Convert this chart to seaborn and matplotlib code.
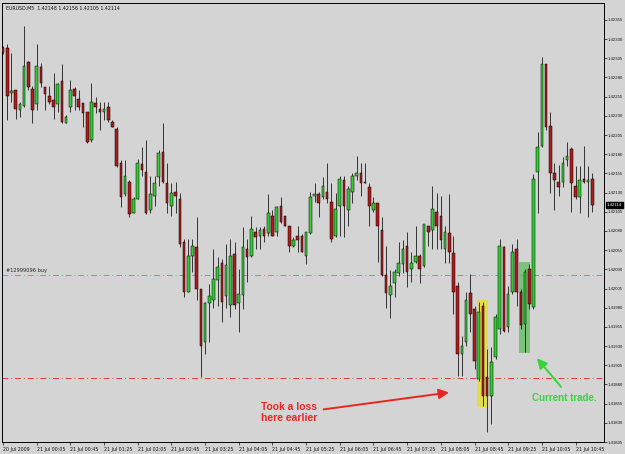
import numpy as np
import matplotlib
matplotlib.use("Agg")
import matplotlib.pyplot as plt
import matplotlib.patches as mpatches
import seaborn as sns

# EURUSD M5, 20 Jul 23:25 .. 21 Jul 11:05
opens = [1.42319, 1.42319, 1.42260, 1.42263, 1.42238, 1.42243, 1.42300, 1.42265, 1.42245, 1.42294,
         1.42268, 1.42256, 1.42250, 1.42245, 1.42276, 1.42221, 1.42241, 1.42265, 1.42252, 1.42247,
         1.42235, 1.42198, 1.42247, 1.42239, 1.42235, 1.42241, 1.42222, 1.42213, 1.42168, 1.42128,
         1.42144, 1.42104, 1.42122, 1.42167, 1.42157, 1.42107, 1.42126, 1.42150, 1.42183, 1.42142,
         1.42112, 1.42131, 1.42121, 1.42065, 1.42000, 1.42048, 1.42059, 1.42004, 1.41935, 1.41986,
         1.41990, 1.42016, 1.42038, 1.41995, 1.41983, 1.42050, 1.41986, 1.41996, 1.42057, 1.42047,
         1.42078, 1.42073, 1.42082, 1.42077, 1.42099, 1.42078, 1.42112, 1.42099, 1.42086, 1.42060,
         1.42073, 1.42073, 1.42048, 1.42077, 1.42125, 1.42128, 1.42124, 1.42131, 1.42118, 1.42073,
         1.42112, 1.42147, 1.42107, 1.42131, 1.42152, 1.42155, 1.42144, 1.42137, 1.42107, 1.42116,
         1.42081, 1.42022, 1.41996, 1.42012, 1.42025, 1.42037, 1.42061, 1.42030, 1.42039, 1.42048,
         1.42034, 1.42086, 1.42081, 1.42105, 1.42099, 1.42056, 1.42077, 1.42051, 1.42008, 1.41920,
         1.41935, 1.41999, 1.41978, 1.41887, 1.41982, 1.41890, 1.41865, 1.41916, 1.41952, 1.42059,
         1.41955, 1.42000, 1.42056, 1.42000, 1.41959, 1.42030, 1.41981, 1.42157, 1.42191, 1.42297,
         1.42217, 1.42156, 1.42144, 1.42144, 1.42173, 1.42187, 1.42138, 1.42124, 1.42148, 1.42144,
         1.42148]
highs = [1.42321, 1.42323, 1.42312, 1.42264, 1.42248, 1.42347, 1.42302, 1.42269, 1.42323, 1.42299,
         1.42268, 1.42269, 1.42286, 1.42273, 1.42298, 1.42231, 1.42277, 1.42267, 1.42263, 1.42247,
         1.42235, 1.42273, 1.42254, 1.42248, 1.42248, 1.42248, 1.42225, 1.42215, 1.42173, 1.42172,
         1.42147, 1.42124, 1.42174, 1.42189, 1.42199, 1.42151, 1.42151, 1.42186, 1.42221, 1.42168,
         1.42143, 1.42144, 1.42130, 1.42069, 1.42069, 1.42070, 1.42098, 1.42005, 1.41987, 1.42011,
         1.42057, 1.42046, 1.42043, 1.42063, 1.42069, 1.42065, 1.42031, 1.42085, 1.42069, 1.42100,
         1.42085, 1.42085, 1.42086, 1.42128, 1.42107, 1.42113, 1.42124, 1.42100, 1.42086, 1.42072,
         1.42087, 1.42076, 1.42078, 1.42131, 1.42143, 1.42131, 1.42150, 1.42168, 1.42143, 1.42130,
         1.42151, 1.42151, 1.42139, 1.42155, 1.42177, 1.42168, 1.42168, 1.42143, 1.42124, 1.42117,
         1.42098, 1.42060, 1.42029, 1.42031, 1.42065, 1.42068, 1.42078, 1.42052, 1.42086, 1.42050,
         1.42089, 1.42087, 1.42139, 1.42130, 1.42125, 1.42087, 1.42128, 1.42073, 1.42013, 1.41943,
         1.42001, 1.42024, 1.41982, 1.41988, 1.41987, 1.41926, 1.41929, 1.41972, 1.42069, 1.42060,
         1.42008, 1.42063, 1.42069, 1.42004, 1.42030, 1.42037, 1.42154, 1.42209, 1.42307, 1.42298,
         1.42235, 1.42168, 1.42166, 1.42176, 1.42196, 1.42189, 1.42164, 1.42164, 1.42191, 1.42165,
         1.42156]
lows = [1.42311, 1.42225, 1.42248, 1.42226, 1.42229, 1.42242, 1.42264, 1.42221, 1.42238, 1.42267,
        1.42237, 1.42245, 1.42226, 1.42235, 1.42221, 1.42220, 1.42235, 1.42237, 1.42237, 1.42216,
        1.42195, 1.42196, 1.42234, 1.42212, 1.42225, 1.42222, 1.42215, 1.42163, 1.42111, 1.42125,
        1.42098, 1.42103, 1.42121, 1.42151, 1.42102, 1.42104, 1.42112, 1.42138, 1.42143, 1.42104,
        1.42099, 1.42103, 1.42059, 1.41994, 1.42000, 1.42027, 1.41990, 1.41890, 1.41920, 1.41935,
        1.41979, 1.41982, 1.41961, 1.41979, 1.41968, 1.41978, 1.41948, 1.41978, 1.42013, 1.42046,
        1.42056, 1.42056, 1.42066, 1.42073, 1.42073, 1.42073, 1.42091, 1.42086, 1.42053, 1.42059,
        1.42053, 1.42052, 1.42037, 1.42076, 1.42118, 1.42098, 1.42121, 1.42117, 1.42065, 1.42072,
        1.42074, 1.42072, 1.42086, 1.42116, 1.42146, 1.42126, 1.42142, 1.42087, 1.42105, 1.42039,
        1.42021, 1.41979, 1.41966, 1.41994, 1.42021, 1.42025, 1.42007, 1.42014, 1.42038, 1.42012,
        1.42033, 1.42060, 1.42057, 1.42057, 1.42056, 1.42038, 1.42038, 1.41972, 1.41891, 1.41891,
        1.41930, 1.41948, 1.41900, 1.41884, 1.41852, 1.41818, 1.41829, 1.41913, 1.41946, 1.41948,
        1.41948, 1.41998, 1.41982, 1.41952, 1.41922, 1.41978, 1.41978, 1.42104, 1.42189, 1.42212,
        1.42130, 1.42107, 1.42125, 1.42137, 1.42165, 1.42105, 1.42121, 1.42104, 1.42142, 1.42098,
        1.42105]
closes = [1.42313, 1.42256, 1.42262, 1.42239, 1.42246, 1.42295, 1.42267, 1.42238, 1.42295, 1.42273,
          1.42259, 1.42248, 1.42242, 1.42272, 1.42222, 1.42229, 1.42263, 1.42256, 1.42241, 1.42234,
          1.42196, 1.42248, 1.42242, 1.42235, 1.42239, 1.42224, 1.42216, 1.42164, 1.42124, 1.42151,
          1.42102, 1.42121, 1.42169, 1.42159, 1.42104, 1.42128, 1.42143, 1.42182, 1.42144, 1.42117,
          1.42130, 1.42125, 1.42063, 1.42000, 1.42048, 1.42060, 1.42004, 1.41930, 1.41986, 1.41995,
          1.42017, 1.42033, 1.41987, 1.42035, 1.42048, 1.41983, 1.41998, 1.42059, 1.42046, 1.42083,
          1.42072, 1.42081, 1.42073, 1.42103, 1.42074, 1.42111, 1.42092, 1.42087, 1.42061, 1.42068,
          1.42068, 1.42052, 1.42078, 1.42124, 1.42128, 1.42117, 1.42138, 1.42121, 1.42069, 1.42108,
          1.42148, 1.42112, 1.42134, 1.42152, 1.42156, 1.42142, 1.42143, 1.42112, 1.42117, 1.42087,
          1.42022, 1.41999, 1.42008, 1.42027, 1.42038, 1.42057, 1.42027, 1.42038, 1.42048, 1.42031,
          1.42089, 1.42078, 1.42108, 1.42087, 1.42068, 1.42078, 1.42052, 1.42000, 1.41920, 1.41930,
          1.41990, 1.41972, 1.41910, 1.41974, 1.41865, 1.41865, 1.41909, 1.41968, 1.42060, 1.41949,
          1.41998, 1.42052, 1.42001, 1.41957, 1.42027, 1.41985, 1.42148, 1.42189, 1.42297, 1.42216,
          1.42156, 1.42147, 1.42137, 1.42168, 1.42178, 1.42143, 1.42124, 1.42147, 1.42144, 1.42147,
          1.42114]

time_labels = ["20 Jul 2009", "21 Jul 00:05", "21 Jul 00:45", "21 Jul 01:25", "21 Jul 02:05",
               "21 Jul 02:45", "21 Jul 03:25", "21 Jul 04:05", "21 Jul 04:45", "21 Jul 05:25",
               "21 Jul 06:05", "21 Jul 06:45", "21 Jul 07:25", "21 Jul 08:05", "21 Jul 08:45",
               "21 Jul 09:25", "21 Jul 10:05", "21 Jul 10:45"]
price_ticks = [1.41805, 1.41830, 1.41855, 1.41880, 1.41905, 1.41930, 1.41955, 1.41980, 1.42005,
               1.42030, 1.42055, 1.42080, 1.42105, 1.42130, 1.42155, 1.42180, 1.42205, 1.42230,
               1.42255, 1.42280, 1.42305, 1.42330, 1.42355]
buy_level = 1.42023
stop_level = 1.41888
last_price = closes[-1]

bg = "#d4d4d4"
up_col = "#33cc33"
down_col = "#b01c1c"

sns.set_theme(style="ticks", rc={"axes.facecolor": bg, "figure.facecolor": bg,
                                 "axes.edgecolor": "black", "axes.linewidth": 0.7})
plt.rcParams["font.family"] = ["Liberation Sans", "DejaVu Sans"]

fig = plt.figure(figsize=(6.25, 4.54), dpi=100)
ax = fig.add_axes([2 / 625, 1 - 442 / 454, 602 / 625, 439 / 454])

o = np.array(opens)
h = np.array(highs)
l = np.array(lows)
c = np.array(closes)
x = np.arange(len(o))
bull = c >= o

# wicks then bodies
ax.vlines(x, np.minimum(l, np.minimum(o, c)), np.maximum(h, np.maximum(o, c)),
          color="#1a1a1a", lw=0.6, zorder=3)
body_lo = np.minimum(o, c)
body_h = np.maximum(np.abs(c - o), 0.000012)
ax.bar(x[bull], body_h[bull], bottom=body_lo[bull], width=0.62, color=up_col,
       edgecolor="black", lw=0.35, zorder=4)
ax.bar(x[~bull], body_h[~bull], bottom=body_lo[~bull], width=0.62, color=down_col,
       edgecolor="black", lw=0.35, zorder=4)

# order levels
ax.axhline(buy_level, color="#4cc24c", lw=0.7, ls=(0, (6, 3, 1, 3)), zorder=2)
ax.axhline(stop_level, color="#e03a3a", lw=0.7, ls=(0, (6, 3, 1, 3)), zorder=2)
ax.text(0.6, buy_level + 0.000025, "#12999096 buy", fontsize=3.6, color="#222222",
        family="DejaVu Sans", va="bottom", ha="left")

# highlight boxes
ax.add_patch(mpatches.Rectangle((112.5, 1.41851), 2.6, 0.00139, color="#e8e020",
                                alpha=0.75, lw=0, zorder=2.5))
ax.add_patch(mpatches.Rectangle((122.6, 1.41921), 2.6, 0.00118, color="#55bb55",
                                alpha=0.7, lw=0, zorder=2.5))

# annotations
ax.text(67.9, 1.41843, "Took a loss\nhere earlier", color="#e8261e", fontsize=7.4,
        fontweight="bold", ha="center", va="center", linespacing=1.1, zorder=6)
ax.annotate("", xy=(106.6, 1.41870), xytext=(75.5, 1.41847),
            arrowprops=dict(arrowstyle="-|>,head_length=0.5,head_width=0.25",
                            color="#e8261e", lw=1.4), zorder=6)
ax.text(133.4, 1.41862, "Current trade.", color="#3ad23a", fontsize=7,
        fontweight="bold", ha="center", va="center", zorder=6)
ax.annotate("", xy=(126.4, 1.41917), xytext=(133.0, 1.41874),
            arrowprops=dict(arrowstyle="-|>,head_length=0.5,head_width=0.25",
                            color="#3ad23a", lw=1.4), zorder=6)

ax.set_xlim(-0.24, 142.76)
ax.set_ylim(1.41805, 1.42377)

ax.set_xticks(np.arange(0, len(time_labels) * 8, 8))
ax.set_xticklabels(time_labels, ha="left", family="DejaVu Sans")
ax.yaxis.tick_right()
ax.set_yticks(price_ticks)
ax.set_yticklabels([f"{p:.5f}" for p in price_ticks], family="Liberation Sans")
ax.tick_params(axis="x", length=2.5, width=0.5, pad=1.2, labelsize=3.4, colors="#111111")
ax.tick_params(axis="y", length=2, width=0.5, pad=0.8, labelsize=3.1, colors="#111111")
for sp in ax.spines.values():
    sp.set_visible(True)
    sp.set_color("black")

# current price box on the price scale
ax.text(1.0045, last_price, f"{last_price:.5f}", transform=ax.get_yaxis_transform(),
        fontsize=3.1, color="white", family="Liberation Sans", ha="left", va="center",
        bbox=dict(boxstyle="square,pad=0.2", fc="black", ec="black"), clip_on=False, zorder=7)

ax.text(0.006, 0.993, "EURUSD,M5  1.42148 1.42156 1.42105 1.42114", transform=ax.transAxes,
        fontsize=3.4, color="#111111", family="DejaVu Sans", ha="left", va="top")

fig.savefig("out.png", dpi=100, facecolor=bg)
